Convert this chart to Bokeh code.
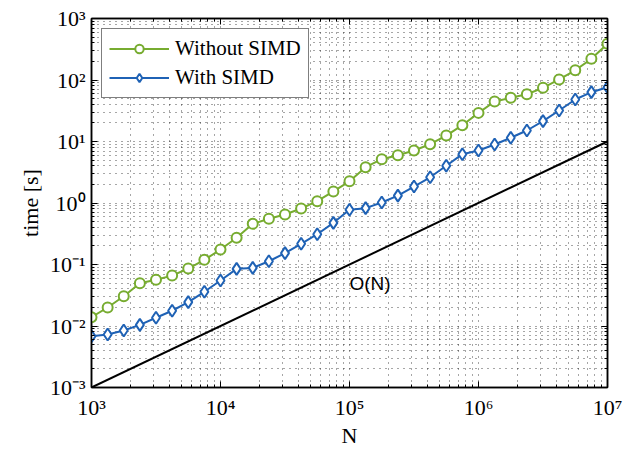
from bokeh.plotting import figure
from bokeh.models import (FixedTicker, LogAxis, CustomJSTickFormatter, Legend, LegendItem)
from bokeh.core.properties import value
from bokeh.embed import file_html
from bokeh.resources import INLINE

# ---- data ----
N = [1000, 1334, 1778, 2371, 3162, 4217, 5623, 7499,
     10000, 13335, 17783, 23714, 31623, 42170, 56234, 74989,
     100000, 133352, 177828, 237137, 316228, 421697, 562341, 749894,
     1000000, 1333521, 1778279, 2371374, 3162278, 4216965, 5623413, 7498942,
     10000000]
t_without = [0.0139, 0.020, 0.0305, 0.0497, 0.0564, 0.066, 0.086, 0.119,
             0.175, 0.272, 0.458, 0.553, 0.65, 0.815, 1.07, 1.54,
             2.25, 3.82, 5.15, 5.98, 7.15, 9.04, 12.5, 18.4,
             29.2, 44.7, 51.4, 58.7, 74.6, 102, 144, 221, 388]
t_with = [0.00683, 0.00728, 0.00845, 0.01045, 0.0136, 0.0177, 0.0244, 0.036,
          0.055, 0.085, 0.088, 0.113, 0.153, 0.217, 0.311, 0.476,
          0.775, 0.824, 1.02, 1.32, 1.85, 2.62, 4.03, 6.22,
          7.15, 8.93, 11.5, 15.1, 21.4, 31.9, 48.2, 63.4, 76.4]
on_N = [1e3, 1e7]
on_t = [1e-3, 1e1]
on_label = "O(N)"
on_label_pos = (1e5, 0.049)
x_major = [1e3, 1e4, 1e5, 1e6, 1e7]
y_major = [1e-3, 1e-2, 1e-1, 1e0, 1e1, 1e2, 1e3]

GREEN = "#77ac30"
BLUE = "#1f62b5"
SERIF = "Liberation Serif"

def minors(majors):
    out = []
    for m in majors[:-1]:
        for k in range(2, 10):
            out.append(m * k)
    return out

xt = FixedTicker(ticks=x_major, minor_ticks=minors(x_major))
yt = FixedTicker(ticks=y_major, minor_ticks=minors(y_major))

fmt = CustomJSTickFormatter(code="""
const sup = {'-':'\u207b','0':'\u2070','1':'\u00b9','2':'\u00b2','3':'\u00b3','4':'\u2074','5':'\u2075','6':'\u2076','7':'\u2077','8':'\u2078','9':'\u2079'};
const e = Math.round(Math.log10(tick));
return '10' + String(e).split('').map(c => sup[c]).join('');
""")

p = figure(width=632, height=452, x_axis_type="log", y_axis_type="log",
           x_range=(1e3, 1e7), y_range=(1e-3, 1e3),
           output_backend="svg", toolbar_location=None,
           min_border_left=91, min_border_right=25, min_border_top=18, min_border_bottom=65)
p.background_fill_color = "white"
p.border_fill_color = "white"
p.outline_line_color = "black"
p.outline_line_width = 1.5

def style_axis(ax, ticker, labels=True):
    ax.ticker = ticker
    ax.formatter = fmt
    ax.axis_line_color = "black"
    ax.axis_line_width = 1.5
    ax.major_tick_in = 6
    ax.major_tick_out = 0
    ax.minor_tick_in = 3
    ax.minor_tick_out = 0
    ax.major_tick_line_color = "black"
    ax.minor_tick_line_color = "black"
    ax.major_label_text_font = SERIF
    ax.major_label_text_font_size = "22px"
    ax.major_label_text_color = "black"
    ax.axis_label_text_font = SERIF
    ax.axis_label_text_font_size = "22px"
    ax.axis_label_text_font_style = "normal"
    ax.axis_label_text_color = "black"
    if not labels:
        ax.major_label_text_font_size = "0px"
        ax.major_label_text_alpha = 0

style_axis(p.xaxis[0], xt)
style_axis(p.yaxis[0], yt)
p.xaxis[0].axis_label = "N"
p.yaxis[0].axis_label = "time [s]"
p.xaxis[0].major_label_standoff = 7
p.yaxis[0].major_label_standoff = 6
p.xaxis[0].axis_label_standoff = 0
p.yaxis[0].axis_label_standoff = 4

top = LogAxis()
right = LogAxis()
style_axis(top, xt, labels=False)
style_axis(right, yt, labels=False)
p.add_layout(top, "above")
p.add_layout(right, "right")

for g in (p.xgrid[0], p.ygrid[0]):
    g.grid_line_color = "black"
    g.grid_line_alpha = 0.7
    g.grid_line_dash = "1 5"
    g.grid_line_width = 1
    g.minor_grid_line_color = "black"
    g.minor_grid_line_alpha = 0.7
    g.minor_grid_line_dash = "1 5"
    g.minor_grid_line_width = 1

# O(N) line
p.line(on_N, on_t, line_color="black", line_width=2)
p.text(x=[on_label_pos[0]], y=[on_label_pos[1]], text=[on_label],
       text_font=value("Liberation Sans"), text_font_size="19px",
       text_baseline="middle", text_align="left", text_color="black")

l1 = p.line(N, t_without, line_color=GREEN, line_width=2)
s1 = p.scatter(N, t_without, marker="circle", size=10, line_color=GREEN,
               line_width=2, fill_color="white")
l2 = p.line(N, t_with, line_color=BLUE, line_width=2)
s2 = p.scatter(N, t_with, marker="diamond", size=12, line_color=BLUE,
               line_width=2, fill_color="white")

legend = Legend(items=[LegendItem(label="Without SIMD", renderers=[l1, s1]),
                       LegendItem(label="With SIMD", renderers=[l2, s2])],
                location="top_left")
legend.margin = 10
legend.padding = 7
legend.spacing = 4
legend.glyph_width = 60
legend.glyph_height = 21
legend.label_height = 21
legend.label_standoff = 6
legend.label_text_font = SERIF
legend.label_text_font_size = "21px"
legend.label_text_color = "black"
legend.border_line_color = "black"
legend.border_line_width = 1.5
legend.background_fill_color = "white"
legend.background_fill_alpha = 1
p.add_layout(legend, "center")

open("out.html", "w").write(file_html(p, INLINE))
